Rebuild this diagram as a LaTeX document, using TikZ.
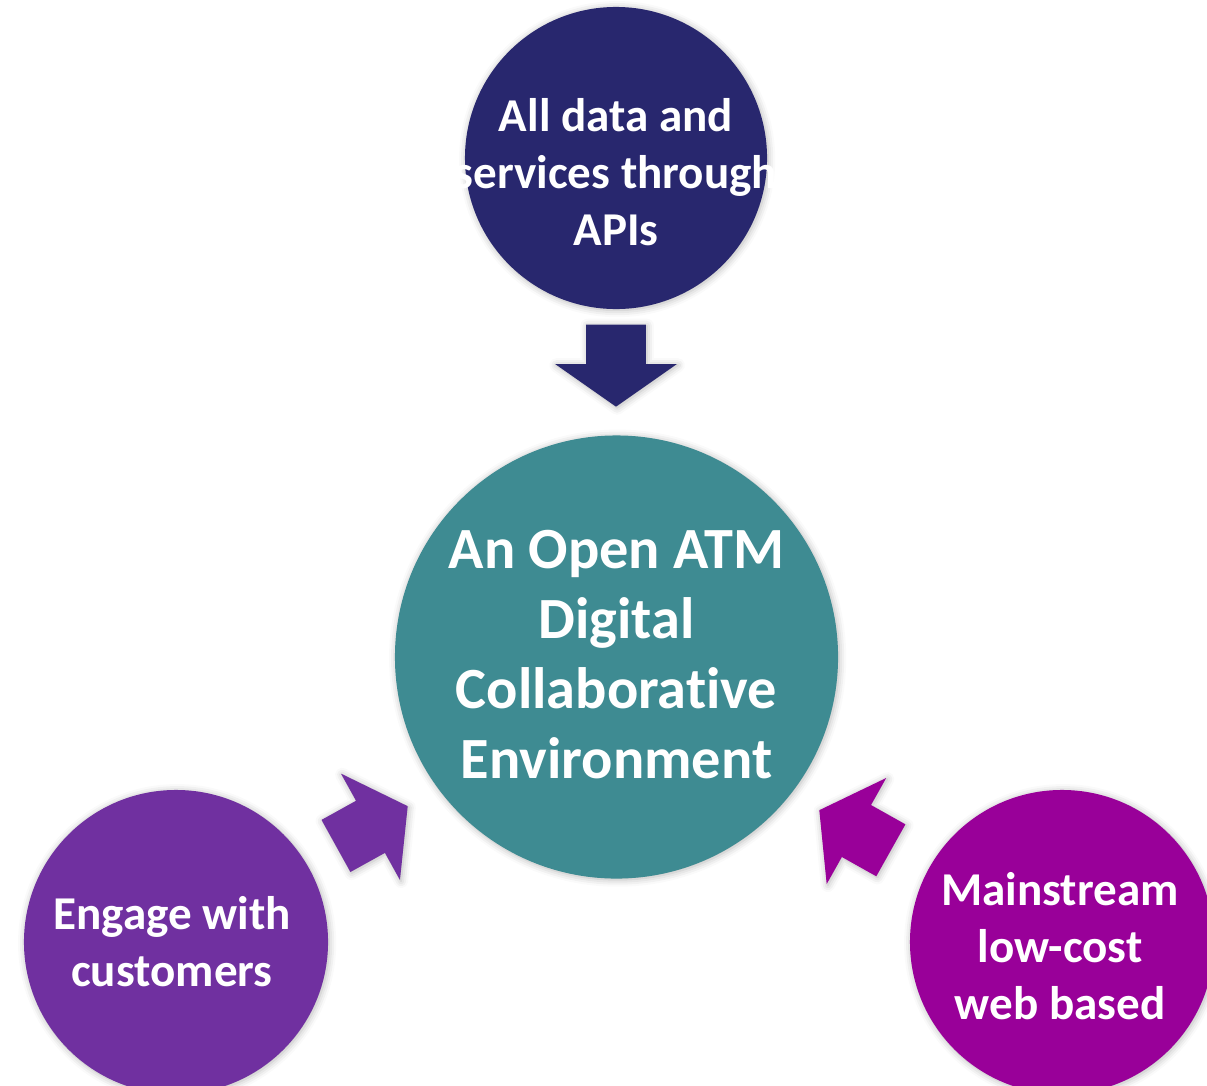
\documentclass[tikz,border=0pt]{standalone}
\usepackage{fontspec}
\setmainfont[Ligatures=CommonOff]{Carlito}
\usetikzlibrary{shapes.arrows,shadows.blur,calc}
\definecolor{navy}{HTML}{28276E}
\definecolor{teal}{HTML}{3E8B92}
\definecolor{grape}{HTML}{7030A0}
\definecolor{plum}{HTML}{990099}
\tikzset{
  soft/.style={blur shadow={shadow xshift=0.8pt, shadow yshift=-0.8pt, shadow blur radius=5pt, shadow opacity=30}},
  disc/.style={circle, fill=#1, inner sep=0pt, minimum size=7.6cm, soft},
  bigdisc/.style={disc=#1, minimum size=11.075cm},
  lbl/.style={text=white, align=center, font=\bfseries\fontsize{33.5}{40.5}\selectfont},
  biglbl/.style={lbl, font=\bfseries\fontsize{41.5}{49.8}\selectfont},
  blockarrow/.style={single arrow, fill=#1, draw=none, inner xsep=0pt, inner ysep=0.7375cm, anchor=tip,
    minimum height=2.05cm, single arrow head extend=0.775cm,
    single arrow tip angle=110, soft}
}
\begin{document}
\begin{tikzpicture}[x=0.025cm, y=-0.025cm, line join=round]
  \useasboundingbox (0,0) rectangle (1207,1085);
  % circles
  \node[disc=navy, minimum size=7.55cm] (apis) at (616,158) {};
  \node[bigdisc=teal] (core) at (616.5,657) {};
  \node[disc=grape] (engage) at (176,942) {};
  \node[disc=plum] (webbased) at (1062,942) {};
  % texts
  \node[lbl] (apis text) at ($(apis)+(0,14)$) {All data and\\services through\\APIs};
  \node[biglbl] (core text) at ($(core)+(0,-2)$) {An Open ATM\\Digital\\Collaborative\\Environment};
  \node[lbl] (engage text) at ($(engage)+(-4,0)$) {Engage with\\customers};
  \node[lbl] (webbased text) at ($(webbased)+(-2,4)$) {Mainstream\\low-cost\\web based};
  % block arrows
  \node[blockarrow=navy, rotate=-90] (a1) at (616,407) {};
  \node[blockarrow=grape, rotate=29] (a2) at (408,806) {};
  \node[blockarrow=plum, rotate=150.7] (a3) at (819,810) {};
\end{tikzpicture}
\end{document}
